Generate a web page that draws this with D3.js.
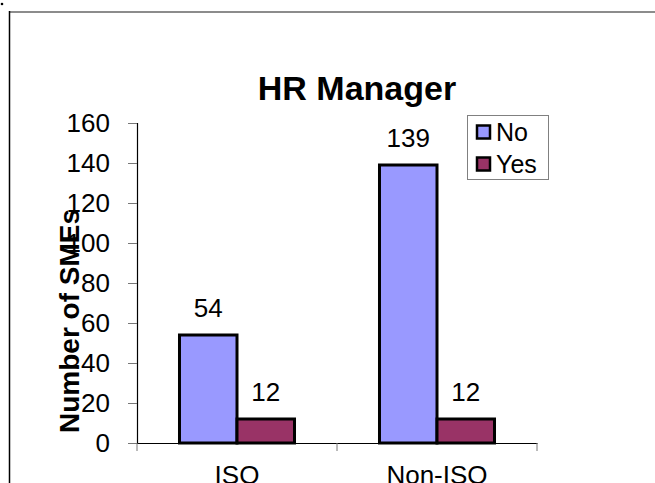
<!DOCTYPE html>
<html><head><meta charset="utf-8">
<script src="https://cdn.jsdelivr.net/npm/d3@7"></script>
<style>html,body{margin:0;padding:0;background:#fff;}svg{display:block;}</style>
</head><body>
<script>
const categories = ["ISO", "Non-ISO"];
const seriesNames = ["No", "Yes"];
const noValues = [54, 139];
const yesValues = [12, 12];
const yTicks = [0, 20, 40, 60, 80, 100, 120, 140, 160];
const colors = ["#9999FF", "#993366"];
const title = "HR Manager";
const yTitle = "Number of SMEs";

const W = 655, H = 483;
const font = "'Liberation Sans', Arial, sans-serif";
const svg = d3.select("body").append("svg").attr("width", W).attr("height", H);

// frame
svg.append("line").attr("x1", 9).attr("x2", W).attr("y1", 12).attr("y2", 12).attr("stroke", "#8c8c8c").attr("stroke-width", 2);
svg.append("line").attr("x1", 9.5).attr("x2", 9.5).attr("y1", 11).attr("y2", H).attr("stroke", "#000").attr("stroke-width", 1.5);
svg.append("circle").attr("cx", 2).attr("cy", 4).attr("r", 1.3).attr("fill", "#000");

const x = d3.scaleBand().domain(categories).range([137, 537]).paddingInner(0).paddingOuter(0);
const x1 = d3.scaleBand().domain(seriesNames).range([0, x.bandwidth()]).paddingInner(0).paddingOuter(0.739);
const y = d3.scaleLinear().domain([0, 160]).range([443, 123]);

const data = categories.map((c, i) => ({cat: c, vals: [noValues[i], yesValues[i]]}));

// y axis
const yAxis = svg.append("g").attr("transform", "translate(137,0)")
  .call(d3.axisLeft(y).tickValues(yTicks).tickSize(9).tickPadding(18).tickFormat(d3.format("d")));
yAxis.select(".domain").attr("stroke", "#000").attr("stroke-width", 1.2);
yAxis.selectAll(".tick line").attr("stroke", "#777").attr("stroke-width", 1);
yAxis.selectAll(".tick text").attr("font-family", font).attr("font-size", 26).attr("fill", "#000");

// x axis
const xAxis = svg.append("g").attr("transform", "translate(0,443)")
  .call(d3.axisBottom(x).tickSize(0).tickPadding(23));
xAxis.select(".domain").attr("stroke", "#000").attr("stroke-width", 1.2);
xAxis.selectAll(".tick text").attr("font-family", font).attr("font-size", 26).attr("fill", "#000").attr("dy", "0.71em");
// category boundary ticks
const bounds = [x.range()[0], ...categories.map(c => x(c) + x.bandwidth())];
svg.append("g").selectAll("line").data(bounds).join("line")
  .attr("x1", d => d).attr("x2", d => d).attr("y1", 443).attr("y2", 451)
  .attr("stroke", "#777").attr("stroke-width", 1);

// bars
const groups = svg.append("g").selectAll("g").data(data).join("g")
  .attr("transform", d => `translate(${x(d.cat)},0)`);
groups.selectAll("rect").data(d => d.vals.map((v, j) => ({v, s: seriesNames[j], j}))).join("rect")
  .attr("x", d => x1(d.s)).attr("width", x1.bandwidth())
  .attr("y", d => y(d.v)).attr("height", d => y(0) - y(d.v))
  .attr("fill", d => colors[d.j]).attr("stroke", "#000").attr("stroke-width", 3);
groups.selectAll("text").data(d => d.vals.map((v, j) => ({v, s: seriesNames[j]}))).join("text")
  .attr("x", d => x1(d.s) + x1.bandwidth() / 2).attr("y", d => y(d.v) - 18)
  .attr("text-anchor", "middle").attr("font-family", font).attr("font-size", 26).attr("fill", "#000")
  .text(d => d.v);

// title
svg.append("text").attr("x", 357).attr("y", 100).attr("text-anchor", "middle")
  .attr("font-family", font).attr("font-size", 34).attr("font-weight", "bold").text(title);

// y title
svg.append("text").attr("transform", "translate(79,321) rotate(-90)").attr("text-anchor", "middle")
  .attr("font-family", font).attr("font-size", 28).attr("font-weight", "bold").text(yTitle);

// legend
const lg = svg.append("g");
lg.append("rect").attr("x", 467.5).attr("y", 115.5).attr("width", 81).attr("height", 64)
  .attr("fill", "#fff").attr("stroke", "#808080").attr("stroke-width", 1);
seriesNames.forEach((s, i) => {
  const cy = 132 + i * 32;
  lg.append("rect").attr("x", 477).attr("y", cy - 6.5).attr("width", 13).attr("height", 13)
    .attr("fill", colors[i]).attr("stroke", "#000").attr("stroke-width", 2.5);
  lg.append("text").attr("x", 496).attr("y", cy).attr("dy", "0.35em")
    .attr("font-family", font).attr("font-size", 25).attr("fill", "#000").text(s);
});
</script>
</body></html>
